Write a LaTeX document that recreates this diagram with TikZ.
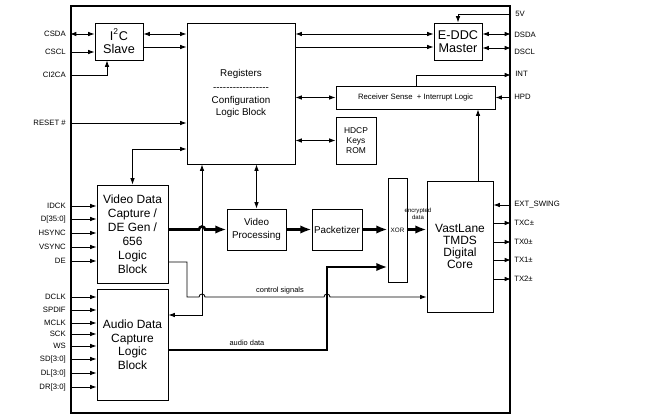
\documentclass[tikz,border=0pt]{standalone}
\usepackage{fontspec}
\setmainfont{Liberation Sans}
\usetikzlibrary{arrows.meta, positioning}

\begin{document}
\begin{tikzpicture}[x=0.025cm, y=-0.025cm,
        chip/.style={rectangle, draw=black, line width=1.4pt, inner sep=0pt},
        blk/.style={rectangle, draw=black, line width=0.6pt, inner sep=0pt, text centered, align=center},
        pinlbl/.style={font=\fontsize{5.5}{6}\selectfont, inner sep=0pt},
        sig/.style={line width=0.6pt, -{Latex[length=4.5pt,width=3.2pt]}},
        bus/.style={line width=0.6pt, {Latex[length=4.5pt,width=3.2pt]}-{Latex[length=4.5pt,width=3.2pt]}},
        fat/.style={line width=1.8pt, -{Latex[length=8pt,width=6pt]}},
        note/.style={inner sep=0pt, align=center}
    ]
        \useasboundingbox (0,0) rectangle (672,420);

        % Khung chip
        \node (chip) [chip, minimum width=10.975cm, minimum height=10.175cm] at (290.5,209.5) {};

        % Các khối chức năng
        \node (i2c) [blk, minimum width=1.2cm, minimum height=0.925cm, font=\fontsize{9}{9.6}\selectfont] at (119,41.5) {I\textsuperscript{2}C\\Slave};
        \node (regs) [blk, minimum width=2.7cm, minimum height=3.525cm, font=\fontsize{7}{8.5}\selectfont] at (241,93.5)
            {Registers\\[1pt] -{}-{}-{}-{}-{}-{}-{}-{}-{}-{}-{}-{}-{}-{}-{}-{}-\\[1pt] Configuration\\Logic Block};
        \node (eddc) [blk, minimum width=1.2cm, minimum height=0.925cm, font=\fontsize{9}{9.2}\selectfont] at (458,41.5) {E-DDC\\Master};
        \node (rsense) [blk, minimum width=3.975cm, minimum height=0.575cm, font=\fontsize{5.5}{6}\selectfont] at (415.5,97.5) {Receiver Sense\ \ + Interrupt Logic};
        \node (hdcp) [blk, minimum width=1.0cm, minimum height=1.175cm, font=\fontsize{6}{7}\selectfont] at (356,140.5) {HDCP\\Keys\\ROM};
        \node (vcap) [blk, minimum width=1.775cm, minimum height=2.45cm, font=\fontsize{8.5}{10}\selectfont] at (132.5,234)
            {Video Data\\Capture /\\DE Gen /\\656\\Logic\\Block};
        \node (vproc) [blk, minimum width=1.475cm, minimum height=1.025cm, font=\fontsize{7}{8.7}\selectfont] at (256.5,229.5) {Video\\Processing};
        \node (pack) [blk, minimum width=1.25cm, minimum height=1.025cm, font=\fontsize{7}{8}\selectfont] at (337,229.5) {Packetizer};
        \node (xor) [blk, minimum width=0.475cm, minimum height=2.6cm, font=\fontsize{4.5}{5}\selectfont] at (397.5,230) {XOR};
        \node (core) [blk, minimum width=1.65cm, minimum height=3.275cm, font=\fontsize{8.5}{8.6}\selectfont] at (460,246.5)
            {VastLane\\TMDS\\Digital\\Core};
        \node (acap) [blk, minimum width=1.775cm, minimum height=2.775cm, font=\fontsize{8.5}{9.6}\selectfont] at (132.5,344.5)
            {Audio Data\\Capture\\Logic\\Block};

        % Chân bên trái
        \node [pinlbl, anchor=east] at (66,34) {CSDA};
        \node [pinlbl, anchor=east] at (66,52) {CSCL};
        \node [pinlbl, anchor=east] at (66,75) {CI2CA};
        \node [pinlbl, anchor=east] at (66,123) {RESET \#};
        \draw[bus] (chip.west |- 0,34) -- (i2c.west |- 0,34);
        \draw[sig] (chip.west |- 0,52) -- (i2c.west |- 0,52);
        \draw[sig] (chip.west |- 0,75) -| (i2c.south -| 107,0);
        \draw[sig] (chip.west |- 0,123) -- (regs.west |- 0,123);
        \foreach \y/\t in {206/IDCK, 219/{D[35:0]}, 233/HSYNC, 247/VSYNC, 261/DE} {
            \node [pinlbl, anchor=east] at (66,\y) {\t};
            \draw[sig] (chip.west |- 0,\y) -- (vcap.west |- 0,\y);
        }
        \foreach \y/\t in {297/DCLK, 310/SPDIF, 323/MCLK, 334/SCK, 346/WS, 359/{SD[3:0]}, 373/{DL[3:0]}, 387/{DR[3:0]}} {
            \node [pinlbl, anchor=east] at (66,\y) {\t};
            \draw[sig] (chip.west |- 0,\y) -- (acap.west |- 0,\y);
        }

        % Chân bên phải
        \node [pinlbl, anchor=west] at (515,14) {5V};
        \node [pinlbl, anchor=west] at (514,35) {DSDA};
        \node [pinlbl, anchor=west] at (514,52) {DSCL};
        \node [pinlbl, anchor=west] at (515,74) {INT};
        \node [pinlbl, anchor=west] at (514,97) {HPD};
        \draw[sig] (chip.east |- 0,14) -| (eddc.north);
        \draw[bus] (eddc.east |- 0,34) -- (chip.east |- 0,34);
        \draw[bus] (eddc.east |- 0,48) -- (chip.east |- 0,48);
        \draw[sig] (rsense.north -| 416,0) |- (chip.east |- 0,75);
        \draw[sig] (chip.east |- rsense.east) -- (rsense.east);
        \node [pinlbl, anchor=west] at (514,205) {EXT\_SWING};
        \draw[sig] (chip.east |- 0,205) -- (core.east |- 0,205);
        \foreach \y/\t in {223/TXC±, 242/TX0±, 260/TX1±, 279/TX2±} {
            \node [pinlbl, anchor=west] at (514,\y) {\t};
            \draw[sig] (core.east |- 0,\y) -- (chip.east |- 0,\y);
        }

        % Kết nối bên trong
        \draw[bus] (i2c.east |- 0,34) -- (regs.west |- 0,34);
        \draw[sig] (i2c.east |- 0,47) -- (regs.west |- 0,47);
        \draw[bus] (regs.east |- 0,34) -- (eddc.west |- 0,34);
        \draw[sig] (regs.east |- 0,47) -- (eddc.west |- 0,47);
        \draw[bus] (regs.east |- rsense.west) -- (rsense.west);
        \draw[bus] (regs.east |- hdcp.west) -- (hdcp.west);
        \draw[sig] (core.north -| 478,0) -- (rsense.south -| 478,0);
        \draw[bus] (regs.west |- 0,149) -| (vcap.north);
        \draw[bus] (regs.south -| 202,0) -- (202,315) -- (acap.east |- 0,315);
        \draw[bus] (regs.south -| vproc.north) -- (vproc.north);

        % Đường dữ liệu video
        \draw[fat] (vcap.east |- vproc.west) -- (199,229.5) arc[start angle=180, end angle=360, radius=3] -- (vproc.west);
        \draw[fat] (vproc.east) -- (pack.west);
        \draw[fat] (pack.east) -- (xor.west |- pack.east);
        \draw[fat] (xor.east |- pack.east) -- (core.west |- pack.east);
        \node [note, font=\fontsize{4.3}{4.6}\selectfont] at (418,214) {encrypted\\data};

        % Dữ liệu âm thanh và tín hiệu điều khiển
        \draw[fat] (acap.east |- 0,350) -- (327,350) -- (327,267) -- (xor.west |- 0,267);
        \node [note, font=\fontsize{5.3}{6}\selectfont] at (247,343) {audio data};
        \draw[sig] (vcap.east |- 0,262) -- (187,262) -- (187,297) -- (199,297) arc[start angle=180, end angle=360, radius=3]
            -- (324,297) arc[start angle=180, end angle=360, radius=3] -- (core.west |- 0,297);
        \node [note, font=\fontsize{5.3}{6}\selectfont] at (280,291) {control signals};

    \end{tikzpicture}
\end{document}
